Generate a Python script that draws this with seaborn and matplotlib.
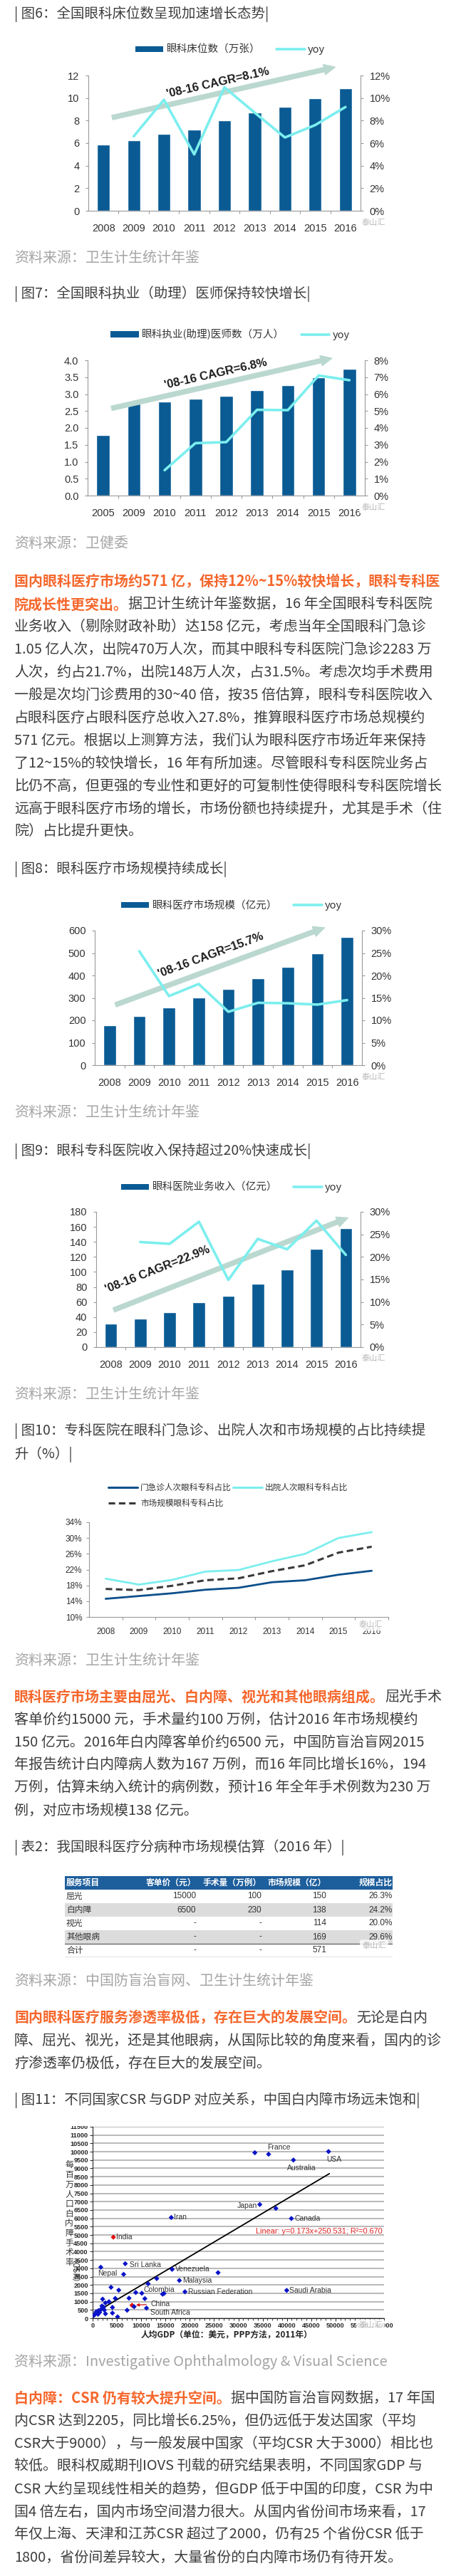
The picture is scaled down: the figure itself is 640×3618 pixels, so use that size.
import numpy as np
import pandas as pd
import matplotlib
matplotlib.use("Agg")
import matplotlib.pyplot as plt
import seaborn as sns
from matplotlib.patches import Patch
from matplotlib.lines import Line2D
from matplotlib.transforms import Bbox, TransformedBbox

# ---- 数据 ----
bed_years = ["2008", "2009", "2010", "2011", "2012", "2013", "2014", "2015", "2016"]
bed_counts = [5.85, 6.23, 6.84, 7.22, 8.0, 8.72, 9.24, 10.0, 10.88]
bed_yoy = [6.6, 9.85, 5.0, 10.95, 8.7, 6.5, 7.6, 9.2]          # 2009-2016

doc_years = ["2005", "2009", "2010", "2011", "2012", "2013", "2014", "2015", "2016"]
doc_counts = [1.80, 2.72, 2.78, 2.86, 2.95, 3.12, 3.27, 3.49, 3.74]
doc_yoy = [1.5, 3.1, 3.16, 5.07, 5.05, 7.1, 6.82]               # 2010-2016

mkt_years = bed_years
mkt_size = [177, 220, 256, 302, 339, 387, 439, 498, 571]
mkt_yoy = [25.4, 15.4, 18.1, 11.9, 13.9, 13.8, 13.5, 14.5]     # 2009-2016

hosp_years = bed_years
hosp_size = [30.8, 37.8, 46.3, 59.5, 68.0, 84.6, 102.9, 130.9, 158.0]
hosp_yoy = [23.3, 22.9, 27.8, 14.9, 24.0, 21.7, 28.05, 20.45]  # 2009-2016

share_years = bed_years
share_visit = [14.6, 15.3, 16.0, 16.9, 17.4, 18.8, 19.3, 20.7, 21.7]
share_discharge = [19.7, 18.2, 19.4, 21.5, 21.9, 24.1, 26.0, 30.0, 31.5]
share_market = [17.1, 16.8, 17.9, 19.3, 19.8, 21.6, 23.1, 26.3, 27.8]

tbl_cols = ["服务项目", "客单价（元）", "手术量（万例）", "市场规模（亿）", "规模占比"]
tbl_items = ["屈光", "白内障", "视光", "其他眼病", "合计"]
tbl_price = ["15000", "6500", "-", "-", "-"]
tbl_volume = ["100", "230", "-", "-", "-"]
tbl_market = ["150", "138", "114", "169", "571"]
tbl_share = ["26.3%", "24.2%", "20.0%", "29.6%", ""]

csr_country = ["", "France", "Australia", "USA", "Japan", "", "Canada", "Iran", "India",
               "Sri Lanka", "Nepal", "", "Venezuela", "", "Malaysia", "", "", "", "", "", "",
               "Colombia", "", "Russian Federation", "Saudi Arabia", "", "", "", "", "", "",
               "China", "", "South Africa", "", "", "", "", "", "", "", "", "", "", "", "",
               "", "", "", ""]
csr_gdp = [33400, 36230, 41340, 48570, 34420, 37730, 40920, 16190, 4270,
           6720, 1680, 6385, 16370, 25830, 17860, 13200, 11430, 3790, 5380, 8880, 10130,
           14400, 14690, 19010, 39960, 2060, 3360, 4660, 7490, 10750, 2640,
           8110, 8540, 11090, 4080, 7100, 4080, 2640, 5140, 480, 720, 960, 1200, 1440, 1920, 2260,
           2400, 240, 1680, 1100]
csr_rate = [9940, 9850, 9500, 10010, 6830, 6600, 5990, 6050, 4870,
            3276, 3064, 2638, 2936, 2738, 2270, 2383, 2071, 1858, 1688, 1546, 1503,
            1447, 1489, 1589, 1675, 1149, 993, 1191, 1206, 1177, 922,
            780, 695, 610, 652, 482, 312, 270, 85, 240, 383, 312, 454, 355, 737, 667,
            496, 170, 525, 240]
fit_slope, fit_icpt = 0.173, 250.531
fit_gdp = [500, 48750]

para1 = [
    ("国内眼科医疗市场约571 亿，保持12%~15%较快增长，眼科专科医", ""),
    ("院成长性更突出。", "据卫计生统计年鉴数据，16 年全国眼科专科医院"),
    ("", "业务收入（剔除财政补助）达158 亿元，考虑当年全国眼科门急诊"),
    ("", "1.05 亿人次，出院470万人次，而其中眼科专科医院门急诊2283 万"),
    ("", "人次，约占21.7%，出院148万人次，占31.5%。考虑次均手术费用"),
    ("", "一般是次均门诊费用的30~40 倍，按35 倍估算，眼科专科医院收入"),
    ("", "占眼科医疗占眼科医疗总收入27.8%，推算眼科医疗市场总规模约"),
    ("", "571 亿元。根据以上测算方法，我们认为眼科医疗市场近年来保持"),
    ("", "了12~15%的较快增长，16 年有所加速。尽管眼科专科医院业务占"),
    ("", "比仍不高，但更强的专业性和更好的可复制性使得眼科专科医院增长"),
    ("", "远高于眼科医疗市场的增长，市场份额也持续提升，尤其是手术（住"),
    ("", "院）占比提升更快。"),
]
para2 = [
    ("眼科医疗市场主要由屈光、白内障、视光和其他眼病组成。", "屈光手术"),
    ("", "客单价约15000 元，手术量约100 万例，估计2016 年市场规模约"),
    ("", "150 亿元。2016年白内障客单价约6500 元，中国防盲治盲网2015"),
    ("", "年报告统计白内障病人数为167 万例，而16 年同比增长16%，194"),
    ("", "万例，估算未纳入统计的病例数，预计16 年全年手术例数为230 万"),
    ("", "例，对应市场规模138 亿元。"),
]
para3 = [
    ("国内眼科医疗服务渗透率极低，存在巨大的发展空间。", "无论是白内"),
    ("", "障、屈光、视光，还是其他眼病，从国际比较的角度来看，国内的诊"),
    ("", "疗渗透率仍极低，存在巨大的发展空间。"),
]
para4 = [
    ("白内障：CSR 仍有较大提升空间。", "据中国防盲治盲网数据，17 年国"),
    ("", "内CSR 达到2205，同比增长6.25%，但仍远低于发达国家（平均"),
    ("", "CSR大于9000），与一般发展中国家（平均CSR 大于3000）相比也"),
    ("", "较低。眼科权威期刊IOVS 刊载的研究结果表明，不同国家GDP 与"),
    ("", "CSR 大约呈现线性相关的趋势，但GDP 低于中国的印度，CSR 为中"),
    ("", "国4 倍左右，国内市场空间潜力很大。从国内省份间市场来看，17"),
    ("", "年仅上海、天津和江苏CSR 超过了2000，仍有25 个省份CSR 低于"),
    ("", "1800，省份间差异较大，大量省份的白内障市场仍有待开发。"),
]

# ---- 样式 ----
sns.set_theme(style="white")
plt.rcParams["font.family"] = ["Noto Sans CJK SC", "DejaVu Sans"]
plt.rcParams["axes.unicode_minus"] = False

BAR = "#0a5b94"
CYAN = "#7ceeee"
ARROW = "#bad8cf"
NAVY = "#0d4f8b"
DASH = "#3a3a3a"
ORANGE = "#f5672c"
TXT = "#3d3d3d"
SRC = "#a5a5a5"
AXC = "#9a9a9a"
FS = 14.4
LAT = "Liberation Sans"

W, H = 640, 3618
fig = plt.figure(figsize=(W / 100, H / 100), dpi=100)
bg = fig.add_axes([0, 0, 1, 1])
bg.set_xlim(0, W)
bg.set_ylim(H, 0)
bg.axis("off")


def box(l, t, r, b):
    return fig.add_axes([l / W, 1 - b / H, (r - l) / W, (b - t) / H])


def say(y, s, color=TXT, size=FS, **kw):
    return bg.text(20, y, s, color=color, fontsize=size, va="center", **kw)


def para(y0, lines, step=31.9):
    for i, (hot, rest) in enumerate(lines):
        y = y0 + i * step
        if hot:
            t = say(y, hot, color=ORANGE, fontweight="bold")
            if rest:
                bg.annotate(rest, xy=(1, 0.5), xycoords=t, va="center", color=TXT, fontsize=FS)
        else:
            say(y, rest)


def mark(x, y):
    fig.text(x / W, 1 - y / H, "泰山汇", fontsize=8, color="#b8b8b8", ha="center", va="center",
             bbox=dict(boxstyle="round,pad=0.3", fc="white", ec="none", alpha=0.8))


def combo(rect, years, vals, yoy, ymax, ystep, y2max, y2step, lfmt, label, leg_xy,
          arrow, cagr, cagr_xy):
    ax = box(*rect)
    sns.barplot(x=years, y=vals, color=BAR, saturation=1, width=0.43, ax=ax, zorder=2)
    ax.set_ylim(0, ymax)
    yt = np.arange(0, ymax + 1e-9, ystep)
    ax.set_yticks(yt)
    ax.set_yticklabels([lfmt.format(v) for v in yt])
    ax.set_xlabel("")
    ax.set_ylabel("")

    ax2 = ax.twinx()
    pos = list(range(len(years) - len(yoy), len(years)))
    sns.lineplot(x=pos, y=yoy, color=CYAN, lw=2.6, ax=ax2, zorder=5)
    ax2.set_ylim(0, y2max)
    yt2 = np.arange(0, y2max + 1e-9, y2step)
    ax2.set_yticks(yt2)
    ax2.set_yticklabels([f"{v:.0f}%" for v in yt2])
    ax2.set_ylabel("")
    ax.set_xlim(-0.5, len(years) - 0.5)

    for a in (ax, ax2):
        for s in a.spines.values():
            s.set_color(AXC)
            s.set_linewidth(0.8)
        a.spines["top"].set_visible(False)
    ax.spines["right"].set_visible(False)
    ax2.spines["left"].set_visible(False)
    ax2.spines["bottom"].set_visible(False)

    ax.tick_params(axis="y", left=True, length=3, width=0.8, color=AXC, labelsize=10.5,
                   labelcolor="#333333", pad=6, labelfontfamily=LAT)
    ax.tick_params(axis="x", bottom=False, labelsize=10.5, labelcolor="#333333", pad=7,
                   labelfontfamily=LAT)
    ax.set_xticks(np.arange(0.5, len(years) - 1, 1), minor=True)
    ax.tick_params(axis="x", which="minor", bottom=True, length=3, width=0.8, color=AXC)
    ax2.tick_params(axis="y", right=True, length=3, width=0.8, color=AXC, labelsize=10.5,
                    labelcolor="#333333", pad=6, labelfontfamily=LAT)

    # CAGR 箭头
    ax.annotate("", xy=arrow[1], xytext=arrow[0], annotation_clip=False, zorder=3,
                arrowprops=dict(arrowstyle="simple,head_length=0.8,head_width=0.75,tail_width=0.32",
                                color=ARROW, mutation_scale=14, shrinkA=0, shrinkB=0))
    p0 = ax.transData.transform(arrow[0])
    p1 = ax.transData.transform(arrow[1])
    ang = np.degrees(np.arctan2(p1[1] - p0[1], p1[0] - p0[0]))
    ax.text(cagr_xy[0], cagr_xy[1], cagr, rotation=ang, rotation_mode="anchor", ha="center",
            va="center", fontsize=12, fontweight="bold", color="#1a1a1a", family=LAT, zorder=4)

    handles = [Patch(facecolor=BAR, edgecolor="none"), Line2D([], [], color=CYAN, lw=2.6)]
    ax.legend(handles, [label, "yoy"], loc="center", bbox_to_anchor=(leg_xy[0] / W, 1 - leg_xy[1] / H),
              bbox_transform=fig.transFigure, ncol=2, frameon=False, fontsize=10.5,
              handlelength=2.7, handleheight=0.5, columnspacing=1.6, handletextpad=0.3,
              borderpad=0, labelcolor="#333333")
    return ax


# ---- 图6 ----
say(20, "| 图6：全国眼科床位数呈现加速增长态势|", size=14)
combo((124, 106, 506, 296), bed_years, bed_counts, bed_yoy, 12, 2, 12, 2, "{:.0f}",
      "眼科床位数（万张）", (323, 70), [(0.29, 8.27), (7.66, 12.74)],
      "'08-16 CAGR=8.1%", (3.79, 11.35))
mark(524, 313)
say(363, "资料来源：卫生计生统计年鉴", color=SRC)

# ---- 图7 ----
say(413, "| 图7：全国眼科执业（助理）医师保持较快增长|", size=14)
combo((123, 506, 512, 696), doc_years, doc_counts, doc_yoy, 4.0, 0.5, 8, 1, "{:.1f}",
      "眼科执业(助理)医师数（万人）", (323, 470), [(0.28, 2.58), (7.43, 4.06)],
      "'08-16 CAGR=6.8%", (3.65, 3.6))
mark(524, 713)
say(763, "资料来源：卫健委", color=SRC)

para(817, para1)

# ---- 图8 ----
say(1221, "| 图8：眼科医疗市场规模持续成长|", size=14)
combo((133, 1307, 508, 1496), mkt_years, mkt_size, mkt_yoy, 600, 100, 30, 5, "{:.0f}",
      "眼科医疗市场规模（亿元）", (325, 1272), [(0.2, 269), (7.24, 613)],
      "'08-16 CAGR=15.7%", (3.4, 490))
mark(524, 1513)
say(1563, "资料来源：卫生计生统计年鉴", color=SRC)

# ---- 图9 ----
say(1617, "| 图9：眼科专科医院收入保持超过20%快速成长|", size=14)
combo((135, 1702, 506, 1892), hosp_years, hosp_size, hosp_yoy, 180, 20, 30, 5, "{:.0f}",
      "眼科医院业务收入（亿元）", (325, 1668), [(0.1, 49.4), (8.07, 172)],
      "'08-16 CAGR=22.9%", (1.59, 103))
mark(524, 1908)
say(1958, "资料来源：卫生计生统计年鉴", color=SRC)

# ---- 图10 ----
say(2010, "| 图10：专科医院在眼科门急诊、出院人次和市场规模的占比持续提", size=14)
say(2043, "升（%）|", size=14)
ax = box(125, 2138, 545, 2271)
pos = list(range(len(share_years)))
sns.lineplot(x=pos, y=share_visit, color=NAVY, lw=2.0, ax=ax)
sns.lineplot(x=pos, y=share_discharge, color=CYAN, lw=2.0, ax=ax)
sns.lineplot(x=pos, y=share_market, color=DASH, lw=2.2, ax=ax)
ax.lines[-1].set_dashes([3, 1.7])
ax.set_xlim(-0.5, len(share_years) - 0.5)
ax.set_ylim(10, 34)
ax.set_yticks(range(10, 35, 4))
ax.set_yticklabels([f"{v}%" for v in range(10, 35, 4)])
ax.set_xticks(pos)
ax.set_xticklabels(share_years)
ax.set_xticks(np.arange(0.5, len(share_years), 1), minor=True)
for s in ("top", "right"):
    ax.spines[s].set_visible(False)
for s in ("left", "bottom"):
    ax.spines[s].set_color(AXC)
    ax.spines[s].set_linewidth(0.8)
ax.tick_params(axis="y", left=True, length=3, width=0.8, color=AXC, labelsize=8.5,
               labelcolor="#333333", pad=4, labelfontfamily=LAT)
ax.tick_params(axis="x", bottom=False, labelsize=8.5, labelcolor="#333333", pad=5,
               labelfontfamily=LAT)
ax.tick_params(axis="x", which="minor", bottom=True, length=3, width=0.8, color=AXC)
h10 = [Line2D([], [], color=NAVY, lw=2.2), Line2D([], [], color=DASH, lw=2.2, dashes=[3, 1.7]),
       Line2D([], [], color=CYAN, lw=2.2)]
ax.legend(h10, ["门急诊人次眼科专科占比", "市场规模眼科专科占比", "出院人次眼科专科占比"],
          loc="upper left", bbox_to_anchor=(152 / W, 1 - 2083 / H), bbox_transform=fig.transFigure,
          ncol=2, frameon=False, fontsize=8.4, handlelength=3.5, handletextpad=0.35,
          columnspacing=0.2, labelspacing=0.75, borderpad=0, borderaxespad=0, labelcolor="#333333")
mark(520, 2282)
say(2332, "资料来源：卫生计生统计年鉴", color=SRC)

para(2383, para2, step=32)

# ---- 表2 ----
say(2595, "| 表2：我国眼科医疗分病种市场规模估算（2016 年）|", size=14)
axt = box(91, 2635, 551, 2749)
axt.set_xlim(0, 460)
axt.set_ylim(6, 0)
axt.axis("off")
axt.axhspan(0, 1, color="#1d5e9c", lw=0)
for i in range(len(tbl_items)):
    if i % 2 == 1:
        axt.axhspan(i + 1, i + 2, color="#dcdcdc", lw=0)
axt.axhline(5, color="#6a6a6a", lw=1.0)
axt.axhline(6, color="#6a6a6a", lw=1.0)
col_right = [None, 184, 276, 367, 460]
axt.text(2, 0.5, tbl_cols[0], color="white", fontweight="bold", fontsize=8.5, va="center")
for c in range(1, 5):
    axt.text(col_right[c], 0.5, tbl_cols[c], color="white", fontweight="bold", fontsize=8.5,
             va="center", ha="right")
for i in range(len(tbl_items)):
    y = i + 1.5
    axt.text(2, y, tbl_items[i], fontsize=8.5, va="center", color="#333333")
    for c, col in zip(range(1, 5), (tbl_price, tbl_volume, tbl_market, tbl_share)):
        axt.text(col_right[c], y, col[i], fontsize=8.5, va="center", ha="right", color="#333333",
                 family=LAT)
mark(525, 2733)
say(2782, "资料来源：中国防盲治盲网、卫生计生统计年鉴", color=SRC)

para(2834, para3, step=32)

# ---- 图11 ----
say(2950, "| 图11：不同国家CSR 与GDP 对应关系，中国白内障市场远未饱和|", size=14)
axs = box(130, 2987, 539, 3256)
df = pd.DataFrame({"gdp": csr_gdp, "csr": csr_rate, "country": csr_country})
df["hl"] = df["country"].isin(["India", "China"])
sns.lineplot(x=fit_gdp, y=[fit_slope * g + fit_icpt for g in fit_gdp], color="black", lw=1.3,
             ax=axs, zorder=2)
sns.scatterplot(data=df, x="gdp", y="csr", hue="hl", palette={False: "#0a14c8", True: "#e01010"},
                marker="D", s=14, linewidth=0, legend=False, ax=axs, zorder=3)
axs.set_xlim(0, 60000)
axs.set_ylim(0, 11500)
axs.set_yticks(range(0, 11501, 500))
axs.set_xticks(range(0, 60001, 5000))
axs.set_xticks(range(0, 60001, 1000), minor=True)
axs.set_xlabel("")
axs.set_ylabel("")
axs.grid(axis="y", color="#b3b3b3", lw=1.3)
axs.grid(axis="x", visible=False)
axs.set_axisbelow(True)
for s in ("top", "right"):
    axs.spines[s].set_visible(False)
for s in ("left", "bottom"):
    axs.spines[s].set_color("#222222")
    axs.spines[s].set_linewidth(0.8)
axs.tick_params(axis="both", which="major", left=True, bottom=True, length=3, width=0.7,
                color="#222222", labelsize=6.6, pad=1.5, labelfontfamily=LAT)
axs.tick_params(axis="x", which="minor", bottom=True, length=2, width=0.6, color="#222222")
for lab in axs.get_xticklabels() + axs.get_yticklabels():
    lab.set_fontweight("bold")
top_lab = axs.yaxis.get_major_ticks()[-1].label1
top_lab.set_clip_box(TransformedBbox(Bbox([[0, 0], [1, 1 - 2986 / H]]), fig.transFigure))
top_lab.set_clip_on(True)

lab_off = {
    "France": (-2, 10, "left"), "USA": (-3, -11, "left"), "Australia": (-9, -11, "left"),
    "Japan": (-4, -2, "right"), "Canada": (5, 0, "left"), "Iran": (4, 0, "left"),
    "India": (4, 0, "left"), "Sri Lanka": (6, -2, "left"), "Nepal": (-4, -9, "left"),
    "Venezuela": (4, 0, "left"), "Malaysia": (4, 0, "left"), "Colombia": (-5, 6, "center"),
    "Russian Federation": (4, 0, "left"), "Saudi Arabia": (4, 0, "left"),
    "South Africa": (5, -6, "left"),
}
for _, row in df[df["country"] != ""].iterrows():
    if row["country"] == "China":
        axs.annotate("China", xy=(row["gdp"], row["csr"]), xytext=(26, 2), textcoords="offset pixels",
                     fontsize=7.5, family=LAT, color="#333333", va="center",
                     arrowprops=dict(arrowstyle="-|>", color="#e01010", lw=0.9, shrinkA=2, shrinkB=4,
                                     mutation_scale=6))
        continue
    dx, dy, ha = lab_off[row["country"]]
    axs.annotate(row["country"], xy=(row["gdp"], row["csr"]), xytext=(dx, dy),
                 textcoords="offset pixels", fontsize=7.5, family=LAT, color="#333333",
                 ha=ha, va="center")
axs.text(59600, 5200, "Linear: y=0.173x+250.531; R²=0.670", color="#e02020", fontsize=7.8,
         family=LAT, ha="right", va="center")

bg.text(97, 3034, "\n".join("每百万人口白内障手术率"), fontsize=8.5, color="#333333", ha="center",
        va="top", linespacing=1.07)
bg.text(97, 3197, "（CSR）", fontsize=8.5, color="#333333", ha="center", va="center", rotation=270)
bg.text(318, 3279, "人均GDP（单位：美元，PPP方法，2011年）", fontsize=8.5, color="#222222",
        ha="center", va="center", fontweight="bold")
mark(520, 3266)
say(3317, "资料来源：Investigative Ophthalmology & Visual Science", color=SRC)

para(3368, para4, step=32)

fig.savefig("out.png", dpi=100, facecolor="white")
